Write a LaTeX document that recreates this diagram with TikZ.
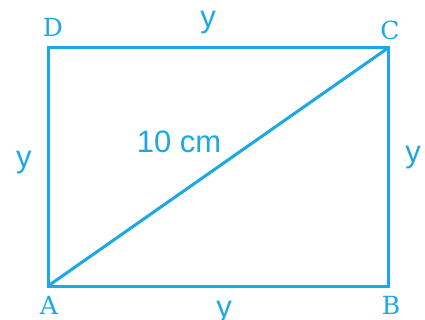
\documentclass[tikz,border=0pt]{standalone}
\usepackage{fontspec}
\setmainfont{DejaVu Serif}
\newfontfamily\arialfont{Liberation Sans}
\usetikzlibrary{calc}
\definecolor{skyCyan}{HTML}{1BA8E6}

\tikzset{
  vertex/.style={anchor=base,text=skyCyan,font=\fontsize{25}{29}\selectfont,inner sep=0pt},
  side/.style={anchor=base,text=skyCyan,font=\arialfont\fontsize{31}{35}\selectfont,inner sep=0pt}
}

\begin{document}
\begin{tikzpicture}[x=1pt,y=-1pt]
\useasboundingbox (0,0) rectangle (425,320);
\coordinate (A) at (48,286);
\coordinate (B) at (388,286);
\coordinate (C) at (388,48);
\coordinate (D) at (48,48);
\draw[line width=3pt,skyCyan,line join=miter] (A) -- (B) -- (C) -- (D) -- cycle;
\draw[line width=3pt,skyCyan] (A) -- (C);
\node[vertex] (labD) at (53,37) {D};
\node[vertex] (labC) at (390,40) {C};
\node[vertex] (labA) at (49,314) {A};
\node[vertex] (labB) at (391,314) {B};
\node[side] (sideDC) at (208,28) {y};
\node[side] (sideAB) at (224,317) {y};
\node[side] (sideAD) at (24,168) {y};
\node[side] (sideBC) at (413,163) {y};
\node[side] (diagAC) at (179,153) {10 cm};
\end{tikzpicture}
\end{document}
